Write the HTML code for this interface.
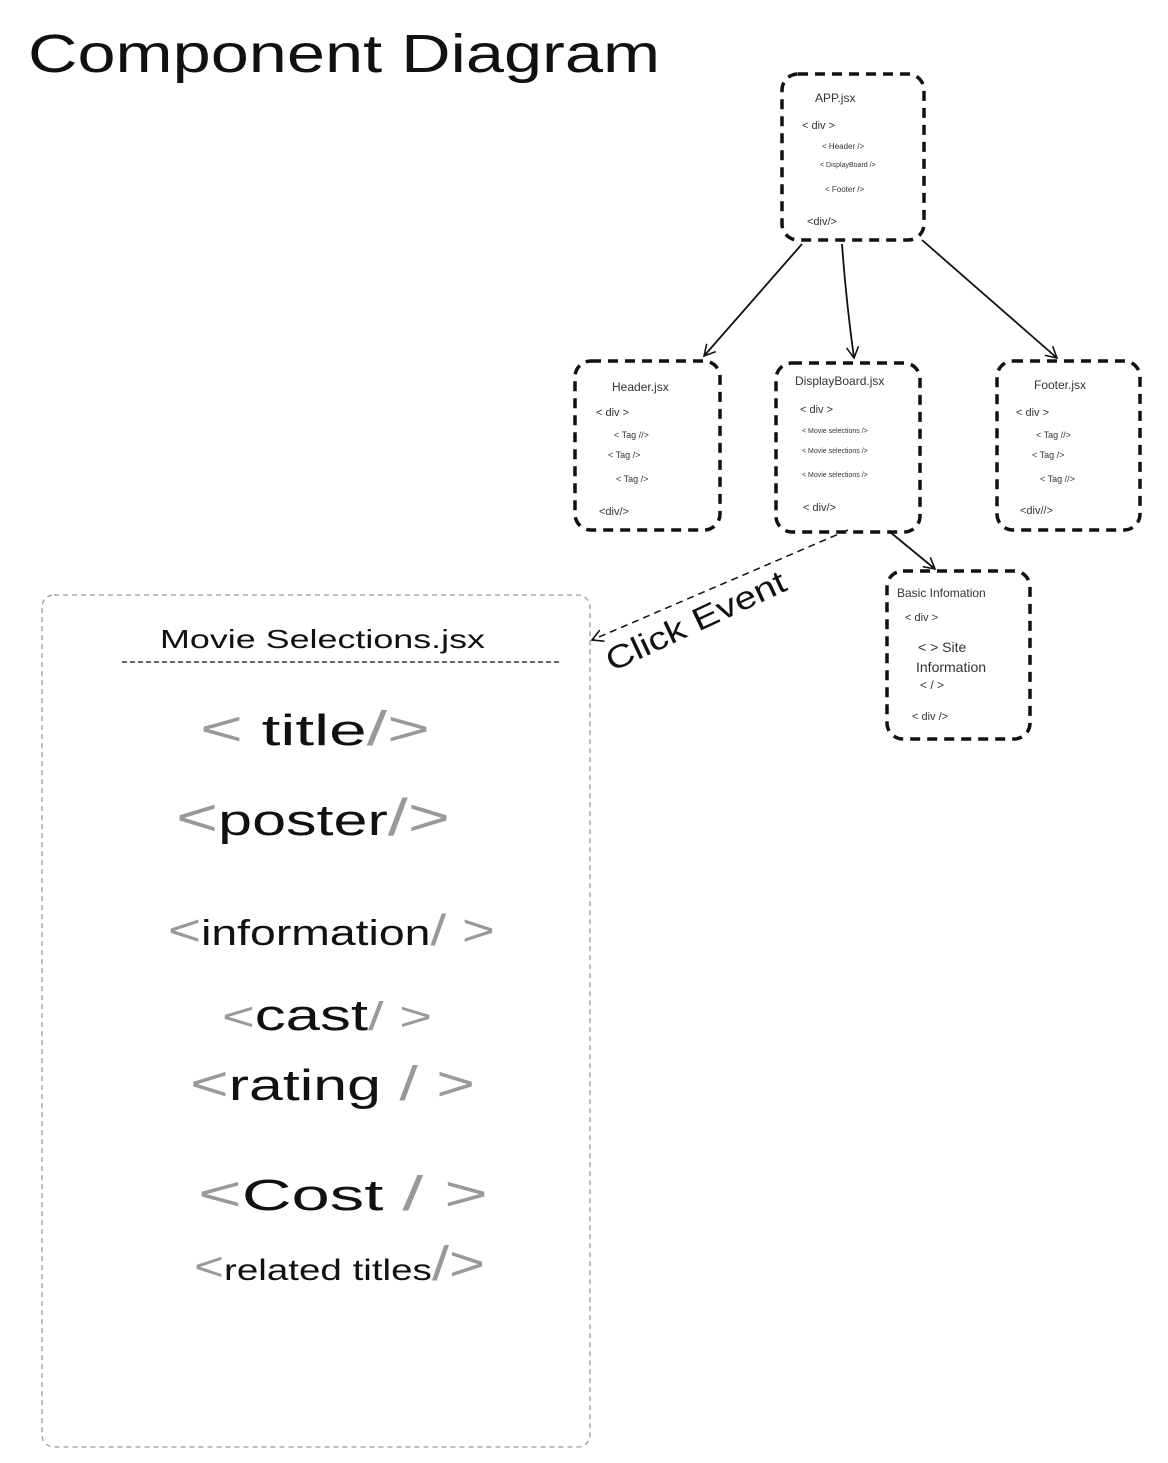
<!DOCTYPE html>
<html><head><meta charset="utf-8"><style>
html,body{margin:0;padding:0;background:#fff;}
svg{display:block;font-family:"Liberation Sans",sans-serif;}
</style></head><body>
<svg width="1168" height="1463" viewBox="0 0 1168 1463" xmlns="http://www.w3.org/2000/svg">
<defs>
<marker id="ah" markerWidth="14" markerHeight="14" refX="12" refY="7" orient="auto" markerUnits="userSpaceOnUse">
<path d="M1,1 L12,7 L1,13" fill="none" stroke="#111" stroke-width="1.6"/>
</marker>
</defs>
<text x="28" y="72" font-size="54" fill="#111" textLength="632" lengthAdjust="spacingAndGlyphs">Component Diagram</text>

<g fill="none" stroke="#111" stroke-width="3.5" stroke-dasharray="10,7">
<rect x="782" y="74" width="142" height="166" rx="16"/>
<rect x="575" y="361" width="145" height="169" rx="16"/>
<rect x="776" y="363" width="144" height="169" rx="16"/>
<rect x="997" y="361" width="143" height="169" rx="16"/>
<rect x="887" y="571" width="143" height="168" rx="16"/>
</g>

<g stroke="#111" stroke-width="1.8" fill="none" marker-end="url(#ah)">
<line x1="802" y1="244" x2="704" y2="356"/>
<path d="M842 244 Q846 300 854 358"/>
<line x1="922" y1="240" x2="1057" y2="358"/>
<line x1="890" y1="532" x2="935" y2="569"/>
<line x1="848" y1="530" x2="592" y2="640" stroke-dasharray="7,5" stroke-width="1.5"/>
</g>
<text x="0" y="0" font-size="32" fill="#111" transform="translate(612,672) rotate(-25)" textLength="195" lengthAdjust="spacingAndGlyphs">Click Event</text>

<g fill="#333" font-size="11">
<text x="815" y="102" font-size="12">APP.jsx</text>
<text x="802" y="129">&lt; div &gt;</text>
<text x="822" y="149" font-size="8">&lt; Header /&gt;</text>
<text x="820" y="167" font-size="7">&lt; DisplayBoard /&gt;</text>
<text x="825" y="192" font-size="8">&lt; Footer /&gt;</text>
<text x="807" y="225">&lt;div/&gt;</text>

<text x="612" y="391" font-size="12">Header.jsx</text>
<text x="596" y="416">&lt; div &gt;</text>
<text x="614" y="438" font-size="9">&lt; Tag //&gt;</text>
<text x="608" y="458" font-size="9">&lt;    Tag   /&gt;</text>
<text x="616" y="482" font-size="9">&lt; Tag /&gt;</text>
<text x="599" y="515">&lt;div/&gt;</text>

<text x="795" y="385" font-size="12">DisplayBoard.jsx</text>
<text x="800" y="413">&lt; div &gt;</text>
<text x="802" y="433" font-size="7">&lt; Movie selections /&gt;</text>
<text x="802" y="453" font-size="7">&lt; Movie selections /&gt;</text>
<text x="802" y="477" font-size="7">&lt; Movie selections /&gt;</text>
<text x="803" y="511">&lt; div/&gt;</text>

<text x="1034" y="389" font-size="12">Footer.jsx</text>
<text x="1016" y="416">&lt; div &gt;</text>
<text x="1036" y="438" font-size="9">&lt; Tag //&gt;</text>
<text x="1032" y="458" font-size="9">&lt;   Tag  /&gt;</text>
<text x="1040" y="482" font-size="9">&lt; Tag //&gt;</text>
<text x="1020" y="514">&lt;div//&gt;</text>

<text x="897" y="597" font-size="12">Basic Infomation</text>
<text x="905" y="621">&lt; div &gt;</text>
<text x="918" y="652" font-size="14">&lt;  &gt; Site</text>
<text x="916" y="672" font-size="14">Information</text>
<text x="920" y="689" font-size="12">&lt; / &gt;</text>
<text x="912" y="720">&lt; div /&gt;</text>
</g>

<rect x="42" y="595" width="548" height="852" rx="12" fill="none" stroke="#999" stroke-width="1.3" stroke-dasharray="5,4"/>
<text x="160" y="648" font-size="26" fill="#111" textLength="325" lengthAdjust="spacingAndGlyphs">Movie Selections.jsx</text>
<line x1="122" y1="662" x2="562" y2="662" stroke="#333" stroke-width="1.5" stroke-dasharray="5,3"/>

<g font-size="44" fill="#111">
<text x="200" y="745" textLength="230" lengthAdjust="spacingAndGlyphs"><tspan fill="#999" font-size="48">&lt;</tspan> title<tspan fill="#999" font-size="48">/&gt;</tspan></text>
<text x="176" y="835" textLength="274" lengthAdjust="spacingAndGlyphs"><tspan fill="#999" font-size="52">&lt;</tspan>poster<tspan fill="#999" font-size="52">/&gt;</tspan></text>
<text x="168" y="945" font-size="36" textLength="327" lengthAdjust="spacingAndGlyphs"><tspan fill="#999" font-size="44">&lt;</tspan>information<tspan fill="#999" font-size="44">/ &gt;</tspan></text>
<text x="222" y="1030" textLength="210" lengthAdjust="spacingAndGlyphs"><tspan fill="#999" font-size="40">&lt;</tspan>cast<tspan fill="#999" font-size="40">/ &gt;</tspan></text>
<text x="190" y="1100" textLength="285" lengthAdjust="spacingAndGlyphs"><tspan fill="#999" font-size="48">&lt;</tspan>rating<tspan fill="#999" font-size="48"> / &gt;</tspan></text>
<text x="198" y="1210" textLength="290" lengthAdjust="spacingAndGlyphs"><tspan fill="#999" font-size="48">&lt;</tspan>Cost <tspan fill="#999" font-size="48"> / &gt;</tspan></text>
<text x="194" y="1280" font-size="30" textLength="291" lengthAdjust="spacingAndGlyphs"><tspan fill="#999" font-size="40">&lt;</tspan>related titles<tspan fill="#999" font-size="48">/&gt;</tspan></text>
</g>
</svg>
</body></html>
